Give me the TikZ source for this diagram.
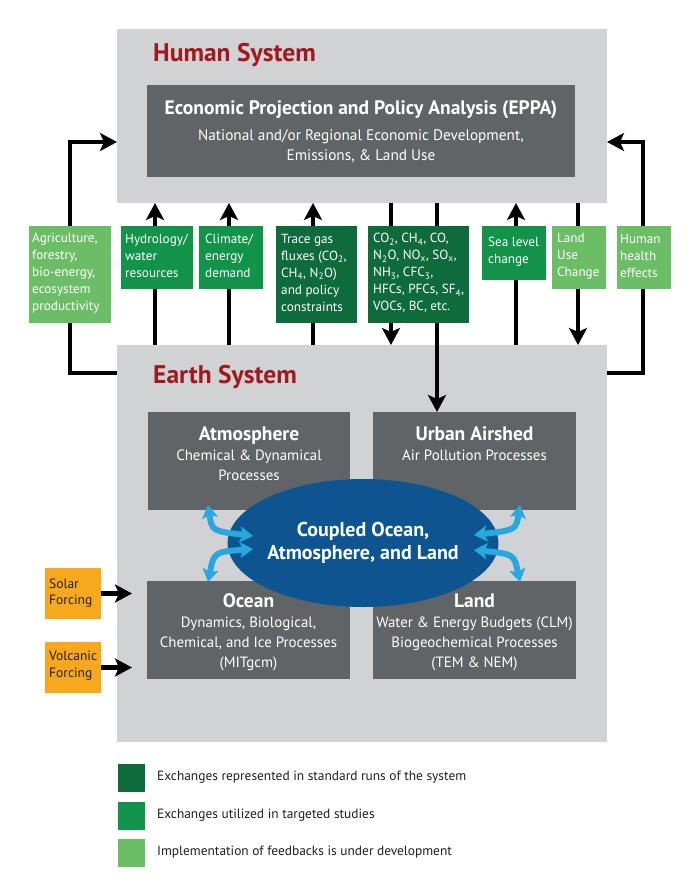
\documentclass[tikz,border=0pt]{standalone}
\usepackage{fontspec}
\setmainfont{PT Sans}
\usetikzlibrary{arrows.meta,shapes.geometric}
\definecolor{bggray}{HTML}{D1D2D4}
\definecolor{boxgray}{HTML}{616466}
\definecolor{titlered}{HTML}{A1191F}
\definecolor{gdark}{HTML}{0E6B3C}
\definecolor{gmid}{HTML}{12934A}
\definecolor{glight}{HTML}{6CBE66}
\definecolor{forange}{HTML}{F8A81C}
\definecolor{eblue}{HTML}{0C5591}
\definecolor{lblue}{HTML}{29A8E0}
\definecolor{ink}{HTML}{231F20}
\begin{document}
\begin{tikzpicture}[x=1pt,y=-1pt,
  region/.style={fill=bggray,draw=none,anchor=north west,inner sep=0,outer sep=0},
  module/.style={fill=boxgray,draw=none,anchor=north west,inner sep=0,outer sep=0},
  gbox/.style={draw=none,anchor=north west,inner sep=0,outer sep=0},
  gtext/.style={text=white,font=\fontsize{13.2}{17}\selectfont,align=left,anchor=west,inner sep=0},
  ftext/.style={text=ink,font=\fontsize{13.5}{16.5}\selectfont,align=left,anchor=west,inner sep=0},
  mtext/.style={text=white,font=\fontsize{14.9}{20}\selectfont,align=center,anchor=center,inner sep=0},
  systitle/.style={text=titlered,font=\bfseries\fontsize{25.5}{28}\selectfont,anchor=base west,inner sep=0},
  legtext/.style={text=ink,font=\fontsize{13.4}{15}\selectfont,anchor=west,inner sep=0},
  flow/.style={line width=4.5pt,line join=miter,-{Stealth[length=17pt,width=18pt,inset=4pt]}},
  swap/.style={line width=6pt,lblue,{Stealth[length=13pt,width=16pt,inset=3pt]}-{Stealth[length=13pt,width=16pt,inset=3pt]}}
]
\newcommand\mt[1]{{\bfseries\fontsize{19.5}{20}\selectfont #1}}
\useasboundingbox[fill=white] (0,0) rectangle (700,893);

% regions
\node[region,minimum width=490pt,minimum height=174pt] (human) at (117,29) {};
\node[region,minimum width=490pt,minimum height=397pt] (earth) at (117,345) {};
\node[systitle] (htitle) at (153,62) {Human System};
\node[systitle] (etitle) at (153,383) {Earth System};

% coordinates for connectors
\coordinate (lb) at (70,373);
\coordinate (lt) at (70,142);
\coordinate (rb) at (643,373);
\coordinate (rt) at (643,142);
\coordinate (xh) at (155,0);
\coordinate (xc) at (229,0);
\coordinate (xt) at (313,0);
\coordinate (xa) at (391,0);
\coordinate (xb) at (437,0);
\coordinate (xs) at (516,0);
\coordinate (xl) at (578,0);

% connectors
\draw[flow] (earth.west |- lb) -- (lb) -- (lt) -- (human.west |- lt);
\draw[flow] (earth.east |- rb) -- (rb) -- (rt) -- (human.east |- rt);
\draw[flow] (earth.north -| xh) -- (human.south -| xh);
\draw[flow] (earth.north -| xc) -- (human.south -| xc);
\draw[flow] (earth.north -| xt) -- (human.south -| xt);
\draw[flow] (human.south -| xa) -- (earth.north -| xa);
\draw[flow] (earth.north -| xs) -- (human.south -| xs);
\draw[flow] (human.south -| xl) -- (earth.north -| xl);

% modules
\node[module,minimum width=428pt,minimum height=92pt] (eppa) at (147,85) {};
\node[module,minimum width=202pt,minimum height=98pt] (atm) at (148,412) {};
\node[module,minimum width=203pt,minimum height=98pt] (urban) at (373,412) {};
\node[module,minimum width=203pt,minimum height=98pt] (ocean) at (147,581) {};
\node[module,minimum width=203pt,minimum height=98pt] (land) at (373,581) {};
\draw[flow] (human.south -| xb) -- (urban.north -| xb);

% exchange boxes
\node[gbox,fill=glight,minimum width=82pt,minimum height=97pt] (agri) at (29,226) {};
\node[gbox,fill=gmid,minimum width=72pt,minimum height=63pt] (hydro) at (121,226) {};
\node[gbox,fill=gmid,minimum width=64pt,minimum height=63pt] (clim) at (199,226) {};
\node[gbox,fill=gdark,minimum width=81pt,minimum height=97pt] (trace) at (276,226) {};
\node[gbox,fill=gdark,minimum width=101pt,minimum height=97pt] (emis) at (368,226) {};
\node[gbox,fill=gmid,minimum width=64pt,minimum height=54pt] (sea) at (482,226) {};
\node[gbox,fill=glight,minimum width=54pt,minimum height=63pt] (luc) at (552,226) {};
\node[gbox,fill=glight,minimum width=54pt,minimum height=63pt] (health) at (617,226) {};

\node[gtext] (agrit) at (32,273) {Agriculture,\\forestry,\\bio-energy,\\ecosystem\\productivity};
\node[gtext] (hydrot) at (125,256) {Hydrology/\\water\\resources};
\node[gtext] (climt) at (205,256) {Climate/\\energy\\demand};
\node[gtext] (tracet) at (281,273) {Trace gas\\fluxes (CO\textsubscript{2},\\CH\textsubscript{4}, N\textsubscript{2}O)\\and policy\\constraints};
\node[gtext] (emist) at (373,273) {CO\textsubscript{2}, CH\textsubscript{4}, CO,\\N\textsubscript{2}O, NO\textsubscript{x}, SO\textsubscript{x},\\NH\textsubscript{3}, CFC\textsubscript{3},\\HFCs, PFCs, SF\textsubscript{4},\\VOCs, BC, etc.};
\node[gtext] (seat) at (488,252) {Sea level\\change};
\node[gtext] (luct) at (557,256) {Land\\Use\\Change};
\node[gtext] (healtht) at (620,256) {Human\\health\\effects};

% module texts
\node[text=white,font=\bfseries\fontsize{19.5}{22}\selectfont,inner sep=0] (eppat) at (361,110) {Economic Projection and Policy Analysis (EPPA)};
\node[mtext,font=\fontsize{15.3}{20}\selectfont] (eppas) at (361,146) {National and/or Regional Economic Development,\\Emissions, \& Land Use};
\node[mtext] (atmt) at (249,453.5) {\mt{Atmosphere}\\Chemical \& Dynamical\\Processes};
\node[mtext] (urbant) at (474.5,443.5) {\mt{Urban Airshed}\\Air Pollution Processes};
\node[mtext] (oceant) at (248.5,632) {\mt{Ocean}\\Dynamics, Biological,\\Chemical, and Ice Processes\\(MITgcm)};
\node[mtext] (landt) at (474.5,632) {\mt{Land}\\Water \& Energy Budgets (CLM)\\Biogeochemical Processes\\(TEM \& NEM)};

% coupled ellipse
\node[ellipse,fill=eblue,draw=none,minimum width=224pt,minimum height=128pt,inner sep=0,
      text=white,font=\bfseries\fontsize{20}{22.5}\selectfont,align=center] (core) at (363,543)
      {Coupled Ocean,\\Atmosphere, and Land};

% exchange arrows around the core
\coordinate (a1) at (208,505);
\coordinate (a2) at (253,536);
\coordinate (b1) at (253,549);
\coordinate (b2) at (208,582);
\coordinate (c1) at (520,505);
\coordinate (c2) at (474,535);
\coordinate (d1) at (474,550);
\coordinate (d2) at (520,582);
\draw[swap] (a1) .. controls (212,531) .. (a2);
\draw[swap] (b1) .. controls (214,552) .. (b2);
\draw[swap] (c1) .. controls (516,530) .. (c2);
\draw[swap] (d1) .. controls (514,554) .. (d2);

% forcings
\node[gbox,fill=forange,minimum width=56pt,minimum height=51pt] (solar) at (45,568) {};
\node[gbox,fill=forange,minimum width=56pt,minimum height=51pt] (volc) at (45,642) {};
\node[ftext] (solart) at (49,593) {Solar\\Forcing};
\node[ftext] (volct) at (49,665.5) {Volcanic\\Forcing};
\draw[flow] (solar.east) -- ++(31,0);
\draw[flow] (volc.east) -- ++(31,0);

% legend
\node[gbox,fill=gdark,minimum width=27pt,minimum height=28pt] (k1) at (118,764) {};
\node[gbox,fill=gmid,minimum width=27pt,minimum height=28pt] (k2) at (118,802) {};
\node[gbox,fill=glight,minimum width=27pt,minimum height=28pt] (k3) at (118,839) {};
\node[legtext] (k1t) at (157,777) {Exchanges represented in standard runs of the system};
\node[legtext] (k2t) at (157,815) {Exchanges utilized in targeted studies};
\node[legtext] (k3t) at (157,852) {Implementation of feedbacks is under development};
\end{tikzpicture}
\end{document}
